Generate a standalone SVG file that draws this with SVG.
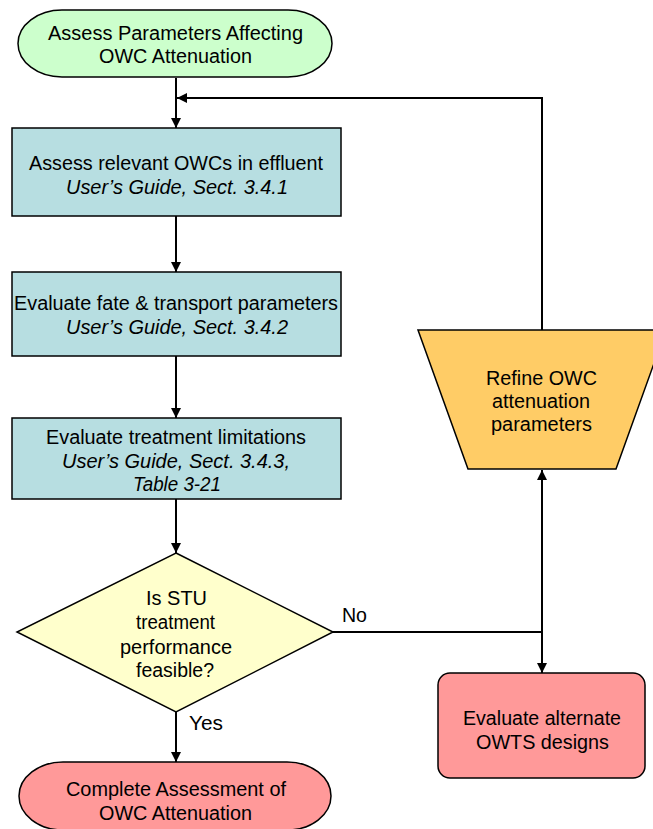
<svg xmlns="http://www.w3.org/2000/svg" width="653" height="829" viewBox="0 0 653 829">
  <defs>
    <marker id="arrow" viewBox="0 0 10 10" refX="10" refY="5" markerWidth="10" markerHeight="10" markerUnits="userSpaceOnUse" orient="auto">
      <path d="M0,0 L10,5 L0,10 Z" fill="#000"/>
    </marker>
    <style>
      .shape { stroke: #000; stroke-width: 1.5; }
      .start { fill: #CCFFCC; }
      .step { fill: #B7DEE1; }
      .decision { fill: #FFFFCC; }
      .refine { fill: #FFCC66; }
      .stop { fill: #FF9999; }
      text { font-family: "Liberation Sans", Arial, sans-serif; font-size: 19.5px; fill: #000; text-anchor: middle; }
      .it { font-style: italic; }
      .lbl { text-anchor: start; }
      .conn { fill: none; stroke: #000; stroke-width: 2; }
    </style>
  </defs>
  <rect width="653" height="829" fill="#fff"/>

  <!-- connectors -->
  <g id="connectors">
    <path class="conn" d="M176,78 V128" marker-end="url(#arrow)"/>
    <path class="conn" d="M542,330 V98 H177" marker-end="url(#arrow)"/>
    <path class="conn" d="M176,216 V272" marker-end="url(#arrow)"/>
    <path class="conn" d="M176,356 V418" marker-end="url(#arrow)"/>
    <path class="conn" d="M176,499 V553" marker-end="url(#arrow)"/>
    <path class="conn" d="M333,632 H542"/>
    <path class="conn" d="M542,632 V470" marker-end="url(#arrow)"/>
    <path class="conn" d="M542,632 V673" marker-end="url(#arrow)"/>
    <path class="conn" d="M176,712 V762" marker-end="url(#arrow)"/>
    <text class="lbl" x="342" y="621.5" textLength="25" lengthAdjust="spacingAndGlyphs">No</text>
    <text class="lbl" x="189" y="729.5" textLength="34" lengthAdjust="spacingAndGlyphs">Yes</text>
  </g>

  <g id="start">
    <rect class="shape start" x="18" y="10" width="314" height="67" rx="44" ry="33.5"/>
    <text x="175.5" y="40" textLength="255" lengthAdjust="spacingAndGlyphs">Assess Parameters Affecting</text>
    <text x="175.5" y="63" textLength="153" lengthAdjust="spacingAndGlyphs">OWC Attenuation</text>
  </g>

  <g id="assess-owcs">
    <rect class="shape step" x="12" y="128" width="329" height="88"/>
    <text x="176" y="170" textLength="294" lengthAdjust="spacingAndGlyphs">Assess relevant OWCs in effluent</text>
    <text class="it" x="177" y="194" textLength="222" lengthAdjust="spacingAndGlyphs">User’s Guide, Sect. 3.4.1</text>
  </g>

  <g id="fate-transport">
    <rect class="shape step" x="12" y="272" width="329" height="84"/>
    <text x="176" y="310" textLength="324" lengthAdjust="spacingAndGlyphs">Evaluate fate &amp; transport parameters</text>
    <text class="it" x="177" y="334" textLength="222" lengthAdjust="spacingAndGlyphs">User’s Guide, Sect. 3.4.2</text>
  </g>

  <g id="treatment-limits">
    <rect class="shape step" x="12" y="418" width="329" height="81"/>
    <text x="176" y="444" textLength="260" lengthAdjust="spacingAndGlyphs">Evaluate treatment limitations</text>
    <text class="it" x="176" y="468" textLength="228" lengthAdjust="spacingAndGlyphs">User’s Guide, Sect. 3.4.3,</text>
    <text class="it" x="177" y="491" textLength="88" lengthAdjust="spacingAndGlyphs">Table 3-21</text>
  </g>

  <g id="feasible">
    <polygon class="shape decision" points="176,553 333,632 176,712 17,632"/>
    <text x="176.5" y="605" textLength="61" lengthAdjust="spacingAndGlyphs">Is STU</text>
    <text x="175.5" y="629" textLength="79" lengthAdjust="spacingAndGlyphs">treatment</text>
    <text x="176" y="654" textLength="112" lengthAdjust="spacingAndGlyphs">performance</text>
    <text x="175" y="677" textLength="78" lengthAdjust="spacingAndGlyphs">feasible?</text>
  </g>

  <g id="refine">
    <polygon class="shape refine" points="418,330 666,330 616,469 468,469"/>
    <text x="541.5" y="385" textLength="111" lengthAdjust="spacingAndGlyphs">Refine OWC</text>
    <text x="541" y="408" textLength="98" lengthAdjust="spacingAndGlyphs">attenuation</text>
    <text x="541.5" y="431" textLength="101" lengthAdjust="spacingAndGlyphs">parameters</text>
  </g>

  <g id="alternate-designs">
    <rect class="shape stop" x="438" y="673" width="207" height="105" rx="12" ry="12"/>
    <text x="542" y="725" textLength="158" lengthAdjust="spacingAndGlyphs">Evaluate alternate</text>
    <text x="542.5" y="749" textLength="133" lengthAdjust="spacingAndGlyphs">OWTS designs</text>
  </g>

  <g id="complete">
    <rect class="shape stop" x="19" y="762" width="312" height="68" rx="44" ry="34"/>
    <text x="176" y="796" textLength="220" lengthAdjust="spacingAndGlyphs">Complete Assessment of</text>
    <text x="175.5" y="820" textLength="153" lengthAdjust="spacingAndGlyphs">OWC Attenuation</text>
  </g>
</svg>
